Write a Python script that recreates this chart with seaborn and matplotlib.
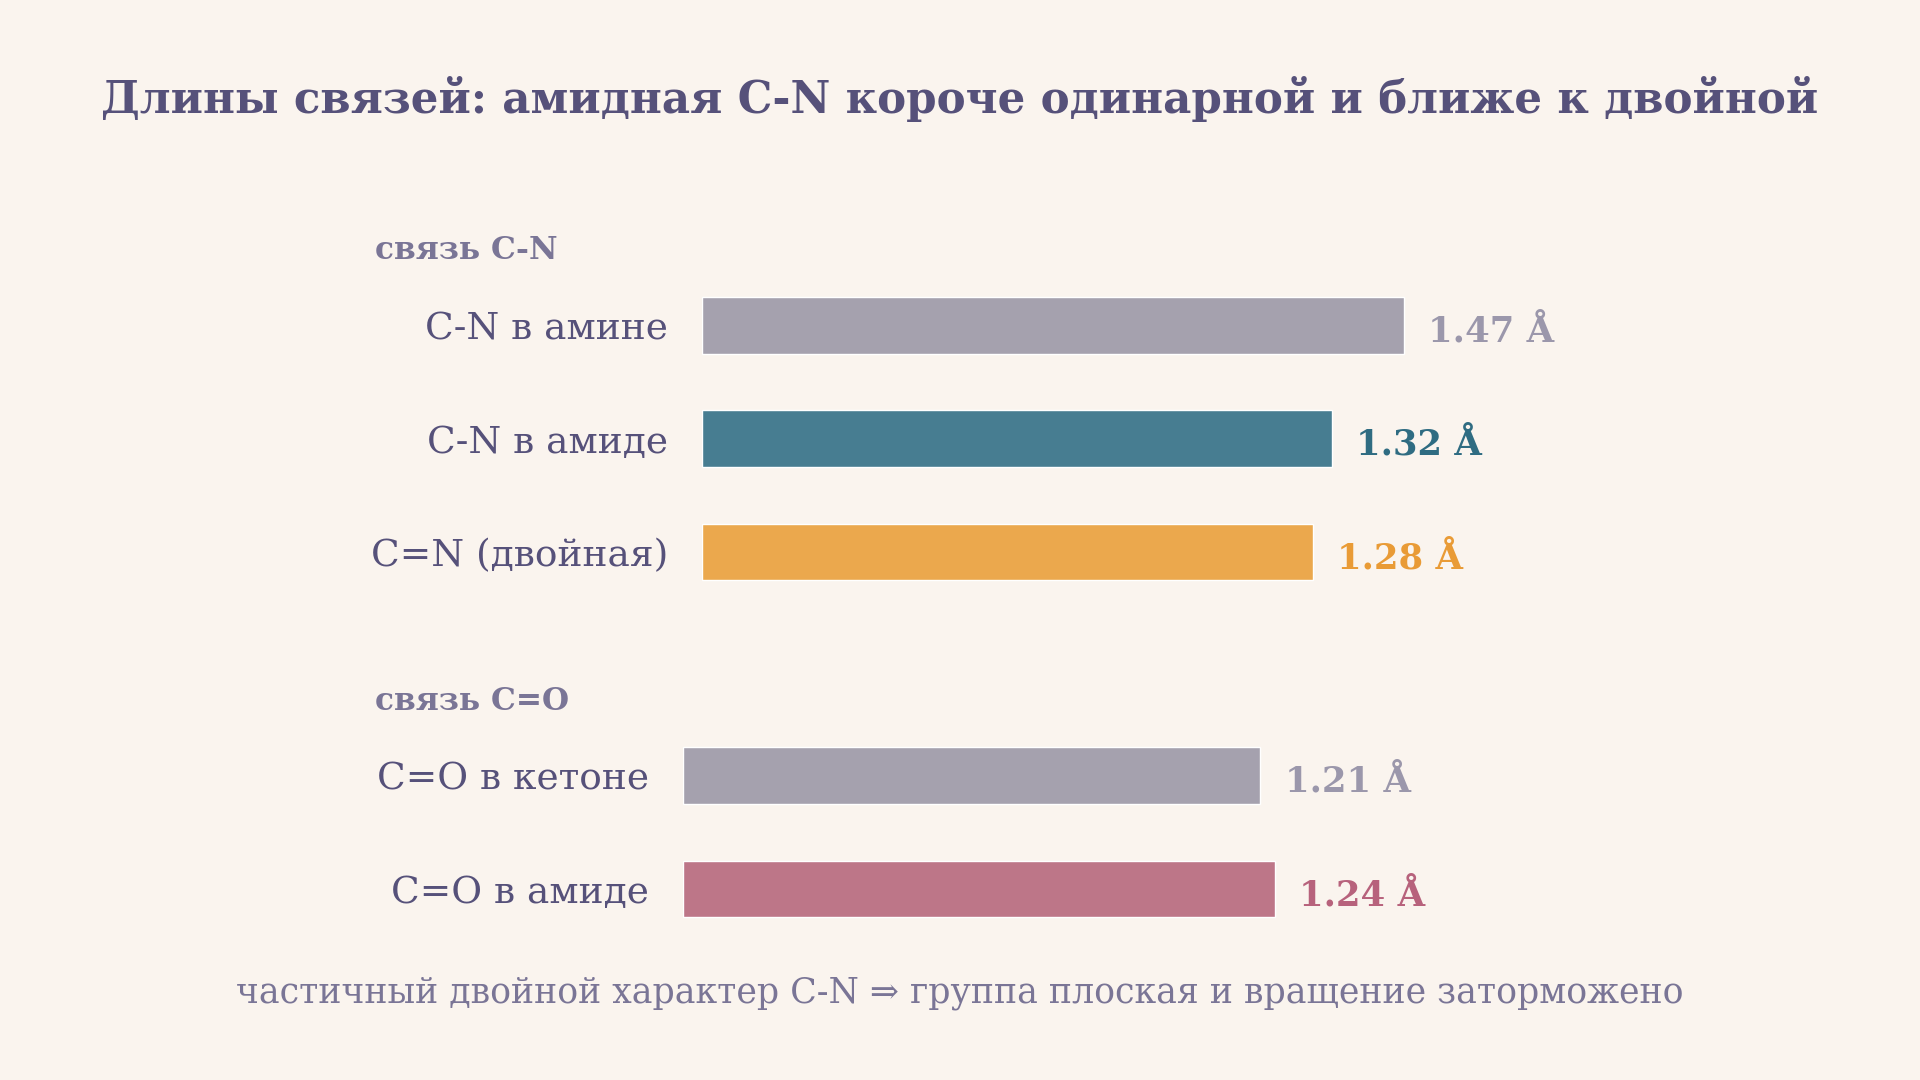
import matplotlib
matplotlib.use("Agg")
import matplotlib.pyplot as plt
import seaborn as sns
import pandas as pd

# --- data ---
cn_labels = ["C-N в амине", "C-N в амиде", "C=N (двойная)"]
cn_values = [1.47, 1.32, 1.28]
co_labels = ["C=O в кетоне", "C=O в амиде"]
co_values = [1.21, 1.24]

cn_bar_colors = ["#a5a1ae", "#477d91", "#eba84d"]
cn_text_colors = ["#9b97ab", "#2f6c82", "#e99b36"]
co_bar_colors = ["#a5a1ae", "#bd7688"]
co_text_colors = ["#9b97ab", "#b7627c"]

title = "Длины связей: амидная C-N короче одинарной и ближе к двойной"
cn_header = "связь C-N"
co_header = "связь C=O"
footer = "частичный двойной характер C-N ⇒ группа плоская и вращение заторможено"

BG = "#faf4ee"
INK = "#56517a"
MUTED = "#7a7596"
FONT = ["DejaVu Serif", "DejaVu Sans"]

sns.set_theme(style="white")
plt.rcParams["font.family"] = FONT

W, H = 1920, 1080
fig = plt.figure(figsize=(19.2, 10.8), dpi=100, facecolor=BG)


def px(x, y):
    return x / W, 1 - y / H


def draw_group(rect, labels, values, bar_colors, text_colors):
    ax = fig.add_axes(rect)
    ax.set_facecolor(BG)
    df = pd.DataFrame({"label": labels, "value": values})
    sns.barplot(data=df, x="value", y="label", hue="label", palette=bar_colors,
                orient="h", width=0.5, legend=False, saturation=1, ax=ax)
    ax.set_xlim(0, 2.0)
    ax.set_ylim(len(labels) - 0.5, -0.5)
    for i, v in enumerate(values):
        ax.annotate(f"{v:.2f} Å", xy=(v, i), xytext=(17.5, -2), textcoords="offset points",
                    ha="left", va="center_baseline", fontsize=25.5, fontweight="bold",
                    color=text_colors[i])
    sns.despine(ax=ax, left=True, bottom=True)
    ax.set_xticks([])
    ax.set_xlabel("")
    ax.set_ylabel("")
    ax.tick_params(axis="y", length=0, pad=24, labelsize=27, labelcolor=INK)
    return ax


# top group: C-N bonds (bar centres at ~325, 438, 552 px; 477.5 px per Å)
draw_group([701.7 / W, 1 - 608.5 / H, 955 / W, 340 / H],
           cn_labels, cn_values, cn_bar_colors, cn_text_colors)
# bottom group: C=O bonds
draw_group([682.7 / W, 1 - 945.7 / H, 955 / W, 226.7 / H],
           co_labels, co_values, co_bar_colors, co_text_colors)

fig.text(*px(960, 113), title, ha="center", va="baseline", fontsize=31.4,
         fontweight="bold", color=INK)
fig.text(*px(375, 259), cn_header, ha="left", va="baseline", fontsize=22.5,
         fontweight="bold", color=MUTED)
fig.text(*px(375, 710), co_header, ha="left", va="baseline", fontsize=22.5,
         fontweight="bold", color=MUTED)
fig.text(*px(960, 1002), footer, ha="center", va="baseline", fontsize=25,
         color=MUTED)

fig.savefig("out.png", dpi=100, facecolor=BG)
